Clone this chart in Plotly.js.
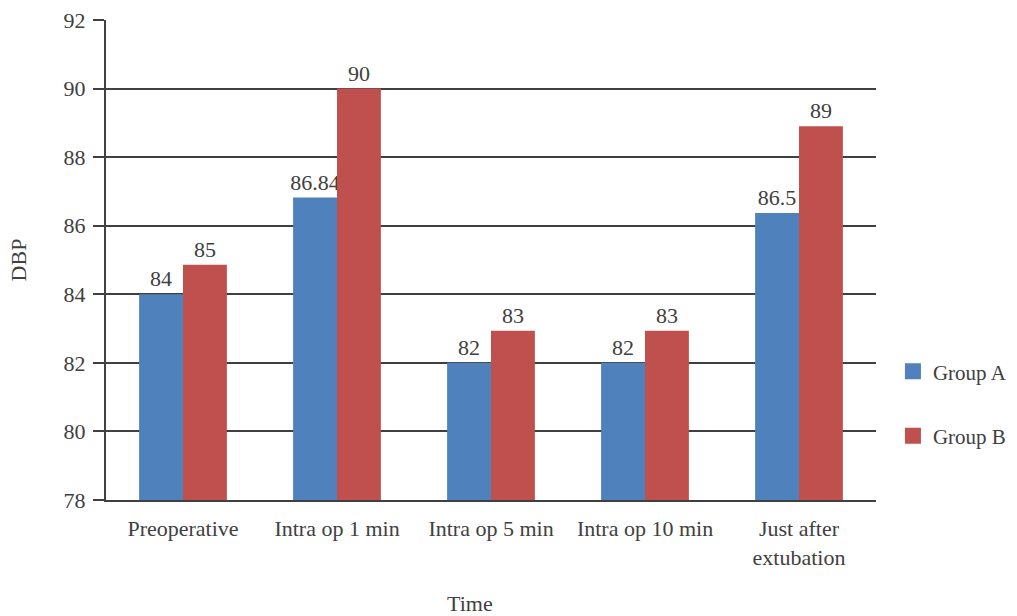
<!DOCTYPE html>
<html>
<head>
<meta charset="utf-8">
<script src="https://cdn.plot.ly/plotly-3.0.1.min.js"></script>
<style>html,body{margin:0;padding:0;background:#fff;}#chart{width:1017px;height:616px;}</style>
</head>
<body>
<div id="chart"></div>
<script>
var categories = ["Preoperative", "Intra op 1 min", "Intra op 5 min", "Intra op 10 min", "Just after<br>extubation"];
var groupA = [84, 86.82, 82, 82, 86.37];
var groupB = [84.86, 90, 82.94, 82.94, 88.9];
var labelsA = ["84", "86.84", "82", "82", "86.5"];
var labelsB = ["85", "90", "83", "83", "89"];
var yTicks = [78, 80, 82, 84, 86, 88, 90, 92];

var blue = "#4F81BD", red = "#C0504D", ink = "#404040";
var fnt = "Liberation Serif";
var fs = 22;

var traces = [
  {type: "bar", name: "Group A", x: categories, y: groupA, text: labelsA,
   textposition: "outside", constraintext: "none", cliponaxis: false,
   textfont: {family: fnt, size: fs, color: ink},
   marker: {color: blue}, showlegend: false, hoverinfo: "x+y"},
  {type: "bar", name: "Group B", x: categories, y: groupB, text: labelsB,
   textposition: "outside", constraintext: "none", cliponaxis: false,
   textfont: {family: fnt, size: fs, color: ink},
   marker: {color: red}, showlegend: false, hoverinfo: "x+y"},
  {type: "scatter", mode: "markers", name: "Group A", x: [categories[0]], y: [null],
   marker: {symbol: "square", size: 18, color: blue}, legendgroup: "a", hoverinfo: "skip"},
  {type: "scatter", mode: "markers", name: "Group B", x: [categories[0]], y: [null],
   marker: {symbol: "square", size: 18, color: red}, legendgroup: "b", hoverinfo: "skip"}
];

var layout = {
  width: 1017, height: 616,
  margin: {l: 106, r: 141, t: 20, b: 116, autoexpand: false},
  paper_bgcolor: "#fff", plot_bgcolor: "#fff",
  font: {family: fnt, size: fs, color: ink},
  barmode: "group", bargap: 0.43, bargroupgap: 0,
  showlegend: true,
  legend: {x: 1.022, xanchor: "left", y: 0.31, yanchor: "top", traceorder: "grouped",
           tracegroupgap: 34, font: {family: fnt, size: 21, color: ink}, bgcolor: "rgba(0,0,0,0)"},
  xaxis: {type: "category", showgrid: false, showline: true, linecolor: ink, linewidth: 2,
          ticks: "", tickfont: {family: fnt, size: fs, color: ink}, ticklabelstandoff: 8},
  yaxis: {range: [78, 92], tickvals: yTicks, ticktext: yTicks.map(String),
          showgrid: true, gridcolor: ink, gridwidth: 2, showline: true, linecolor: ink, linewidth: 2,
          ticks: "outside", ticklen: 11, tickwidth: 2, tickcolor: ink, zeroline: false,
          tickfont: {family: fnt, size: fs, color: ink}, ticklabelstandoff: 3,
          title: {text: "DBP", font: {family: fnt, size: fs, color: ink}, standoff: 31}},
  annotations: [
    {text: "Time", xref: "paper", yref: "paper", x: 0.473, y: -0.215, xanchor: "center", yanchor: "middle",
     showarrow: false, font: {family: fnt, size: fs, color: ink}}
  ]
};

Plotly.newPlot("chart", traces, layout, {displayModeBar: false, staticPlot: true});
</script>
</body>
</html>
